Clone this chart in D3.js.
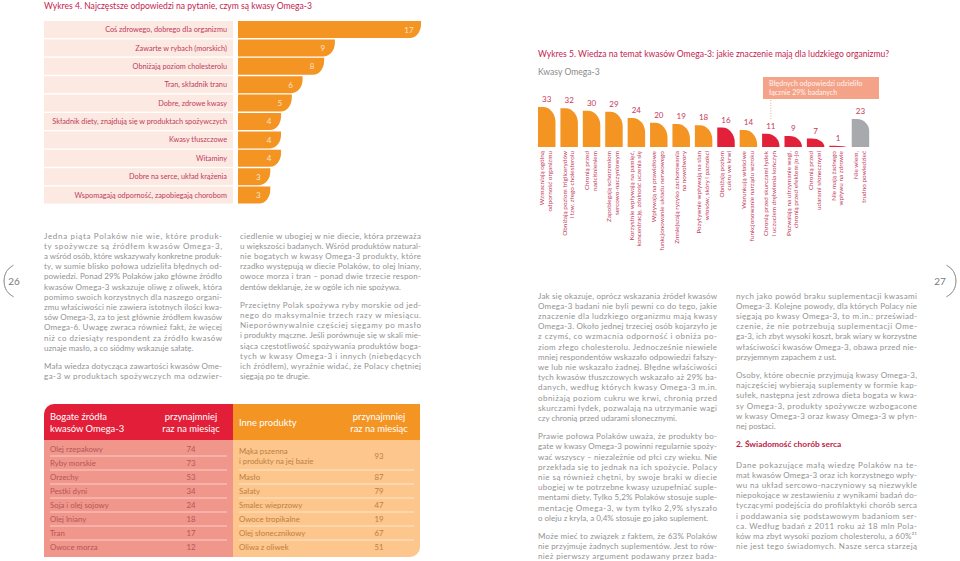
<!DOCTYPE html>
<html><head><meta charset="utf-8">
<script src="https://cdn.jsdelivr.net/npm/d3@7"></script>
<style>
body{margin:0;background:#fff}
svg{display:block}
text{font-family:Lato,'Open Sans',sans-serif}
</style>
</head><body>
<svg id="c" width="960" height="561"></svg>
<script>
// ---------- DATA ----------
const w4Title = "Wykres 4. Najczęstsze odpowiedzi na pytanie, czym są kwasy Omega-3";
const w4Categories = [
  "Coś zdrowego, dobrego dla organizmu",
  "Zawarte w rybach (morskich)",
  "Obniżają poziom cholesterolu",
  "Tran, składnik tranu",
  "Dobre, zdrowe kwasy",
  "Składnik diety, znajdują się w produktach spożywczych",
  "Kwasy tłuszczowe",
  "Witaminy",
  "Dobre na serce, układ krążenia",
  "Wspomagają odporność, zapobiegają chorobom"
];
const w4Values = [17, 9, 8, 6, 5, 4, 4, 4, 3, 3];

const w5Title = "Wykres 5. Wiedza na temat kwasów Omega-3: jakie znaczenie mają dla ludzkiego organizmu?";
const w5Subtitle = "Kwasy Omega-3";
const w5Categories = [
  ["Wzmacniają ogólną", "odporność organizmu"],
  ["Obniżają poziom triglicerydów", "i tzw. złego cholesterolu"],
  ["Chronią przed", "nadciśnieniem"],
  ["Zapobiegają schorzeniom", "sercowo-naczyniowym"],
  ["Korzystnie wpływają na pamięć,", "koncentrację, zdolność uczenia się"],
  ["Wpływają na prawidłowe", "funkcjonowanie układu nerwowego"],
  ["Zmniejszają ryzyko zachorowania", "na nowotwory"],
  ["Pozytywnie wpływają na stan", "włosów, skóry i paznokci"],
  ["Obniżają poziom", "cukru we krwi"],
  ["Warunkują właściwe", "funkcjonowanie narządu wzroku"],
  ["Chronią przed skurczami łydek", "i uczuciem drętwienia kończyn"],
  ["Pozwalają na utrzymanie wagi,", "chronią przed efektem jo-jo"],
  ["Chronią przed", "udarami słonecznymi"],
  ["Nie mają żadnego", "wpływu na zdrowie"],
  ["Nie wiem,", "trudno powiedzieć"]
];
const w5Values = [33, 32, 30, 29, 24, 20, 19, 18, 16, 14, 11, 9, 7, 1, 23];
const w5Groups = ["ok","ok","ok","ok","ok","ok","ok","ok","wrong","ok","wrong","wrong","wrong","wrong","dk"];
const w5Note = ["Błędnych odpowiedzi udzieliło", "łącznie 29% badanych"];

const tabOmegaHeader = ["Bogate źródła", "kwasów Omega-3"];
const tabOtherHeader = ["Inne produkty"];
const tabFreqHeader = ["przynajmniej", "raz na miesiąc"];
const tabOmegaNames = ["Olej rzepakowy","Ryby morskie","Orzechy","Pestki dyni","Soja i olej sojowy","Olej lniany","Tran","Owoce morza"];
const tabOmegaValues = [74, 73, 53, 34, 24, 18, 17, 12];
const tabOtherNames = [["Mąka pszenna","i produkty na jej bazie"],["Masło"],["Sałaty"],["Smalec wieprzowy"],["Owoce tropikalne"],["Olej słonecznikowy"],["Oliwa z oliwek"]];
const tabOtherValues = [93, 87, 79, 47, 19, 67, 51];

const col1 = [
  {end:true, lines:[
    "Jedna piąta Polaków nie wie, które produk-",
    "ty spożywcze są źródłem kwasów Omega-3,",
    "a wśród osób, które wskazywały konkretne produk-",
    "ty, w sumie blisko połowa udzieliła błędnych od-",
    "powiedzi. Ponad 29% Polaków jako główne źródło",
    "kwasów Omega-3 wskazuje oliwę z oliwek, która",
    "pomimo swoich korzystnych dla naszego organi-",
    "zmu właściwości nie zawiera istotnych ilości kwa-",
    "sów Omega-3, za to jest głównie źródłem kwasów",
    "Omega-6. Uwagę zwraca również fakt, że więcej",
    "niż co dziesiąty respondent za źródło kwasów",
    "uznaje masło, a co siódmy wskazuje sałatę."]},
  {end:false, lines:[
    "Mała wiedza dotycząca zawartości kwasów Ome-",
    "ga-3 w produktach spożywczych ma odzwier-"]}
];
const col2 = [
  {end:true, lines:[
    "ciedlenie w ubogiej w nie diecie, która przeważa",
    "u większości badanych. Wśród produktów natural-",
    "nie bogatych w kwasy Omega-3 produkty, które",
    "rzadko występują w diecie Polaków, to olej lniany,",
    "owoce morza i tran – ponad dwie trzecie respon-",
    "dentów deklaruje, że w ogóle ich nie spożywa."]},
  {end:true, lines:[
    "Przeciętny Polak spożywa ryby morskie od jed-",
    "nego do maksymalnie trzech razy w miesiącu.",
    "Nieporównywalnie częściej sięgamy po masło",
    "i produkty mączne. Jeśli porównuje się w skali mie-",
    "siąca częstotliwość spożywania produktów boga-",
    "tych w kwasy Omega-3 i innych (niebędących",
    "ich źródłem), wyraźnie widać, że Polacy chętniej",
    "sięgają po te drugie."]}
];
const col3 = [
  {end:true, lines:[
    "Jak się okazuje, oprócz wskazania źródeł kwasów",
    "Omega-3 badani nie byli pewni co do tego, jakie",
    "znaczenie dla ludzkiego organizmu mają kwasy",
    "Omega-3. Około jednej trzeciej osób kojarzyło je",
    "z czymś, co wzmacnia odporność i obniża po-",
    "ziom złego cholesterolu. Jednocześnie niewiele",
    "mniej respondentów wskazało odpowiedzi fałszy-",
    "we lub nie wskazało żadnej. Błędne właściwości",
    "tych kwasów tłuszczowych wskazało aż 29% ba-",
    "danych, według których kwasy Omega-3 m.in.",
    "obniżają poziom cukru we krwi, chronią przed",
    "skurczami łydek, pozwalają na utrzymanie wagi",
    "czy chronią przed udarami słonecznymi."]},
  {end:true, lines:[
    "Prawie połowa Polaków uważa, że produkty bo-",
    "gate w kwasy Omega-3 powinni regularnie spoży-",
    "wać wszyscy – niezależnie od płci czy wieku. Nie",
    "przekłada się to jednak na ich spożycie. Polacy",
    "nie są również chętni, by swoje braki w diecie",
    "ubogiej w te potrzebne kwasy uzupełniać suple-",
    "mentami diety. Tylko 5,2% Polaków stosuje suple-",
    "mentację Omega-3, w tym tylko 2,9% słyszało",
    "o oleju z kryla, a 0,4% stosuje go jako suplement."]},
  {end:false, lines:[
    "Może mieć to związek z faktem, że 63% Polaków",
    "nie przyjmuje żadnych suplementów. Jest to rów-",
    "nież pierwszy argument podawany przez bada-"]}
];
const col4a = [
  {end:true, lines:[
    "nych jako powód braku suplementacji kwasami",
    "Omega-3. Kolejne powody, dla których Polacy nie",
    "sięgają po kwasy Omega-3, to m.in.: przeświad-",
    "czenie, że nie potrzebują suplementacji Ome-",
    "ga-3, ich zbyt wysoki koszt, brak wiary w korzystne",
    "właściwości kwasów Omega-3, obawa przed nie-",
    "przyjemnym zapachem z ust."]},
  {end:true, lines:[
    "Osoby, które obecnie przyjmują kwasy Omega-3,",
    "najczęściej wybierają suplementy w formie kap-",
    "sułek, następna jest zdrowa dieta bogata w kwa-",
    "sy Omega-3, produkty spożywcze wzbogacone",
    "w kwasy Omega-3 oraz kwasy Omega-3 w płyn-",
    "nej postaci."]}
];
const col4Heading = "2. Świadomość chorób serca";
const col4b = [
  {end:false, lines:[
    "Dane pokazujące małą wiedzę Polaków na te-",
    "mat kwasów Omega-3 oraz ich korzystnego wpły-",
    "wu na układ sercowo-naczyniowy są niezwykle",
    "niepokojące w zestawieniu z wynikami badań do-",
    "tyczącymi podejścia do profilaktyki chorób serca",
    "i poddawania się podstawowym badaniom ser-",
    "ca. Według badań z 2011 roku aż 18 mln Pola-",
    "ków ma zbyt wysoki poziom cholesterolu, a 60%³¹",
    "nie jest tego świadomych. Nasze serca starzeją"]}
];
const pageNumbers = ["26", "27"];

// ---------- STYLE ----------
const RED = "#c4234f", LABEL = "#bf3a5e", ORANGE = "#f39423", CRIMSON = "#e3203a",
      GREY = "#a8a9ad", BODY = "#929292";

const svg = d3.select("#c");

// ---------- WYKRES 4 ----------
svg.append("text").attr("x", 44).attr("y", 8.5).attr("font-size", 8.6).attr("fill", RED).text(w4Title);

const x4 = d3.scaleLinear().domain([0, 17]).range([238, 421]);
const y4 = d3.scaleBand().domain(w4Categories).range([21, 203.6]).paddingInner(0.076);
const g4 = svg.append("g");
g4.selectAll("rect.bg").data(w4Categories).join("rect")
  .attr("x", 44).attr("width", 189).attr("y", d => y4(d)).attr("height", y4.bandwidth())
  .attr("fill", "#fce9e1");
g4.selectAll("text.lab").data(w4Categories).join("text")
  .attr("x", 227).attr("y", d => y4(d) + y4.bandwidth()/2 + 2.6)
  .attr("text-anchor", "end").attr("font-size", 7.3).attr("fill", LABEL).text(d => d);
function barH(x0, x1, y0, h, rx, ry) {
  rx = Math.min(rx, x1 - x0); ry = Math.min(ry, h);
  return `M${x0},${y0}H${x1}V${y0 + h - ry}A${rx},${ry} 0 0 1 ${x1 - rx},${y0 + h}H${x0}Z`;
}
g4.selectAll("path.bar").data(w4Values).join("path")
  .attr("d", (v, i) => barH(x4(0), x4(v), y4(w4Categories[i]), y4.bandwidth(), 11, 14))
  .attr("fill", ORANGE);
g4.selectAll("text.val").data(w4Values).join("text")
  .attr("x", v => x4(v) - 12).attr("y", (v, i) => y4(w4Categories[i]) + y4.bandwidth()/2 + 3)
  .attr("text-anchor", "middle").attr("font-size", 8).attr("fill", "#fde3c6").text(v => v);

// ---------- WYKRES 5 ----------
svg.append("text").attr("x", 538).attr("y", 57).attr("font-size", 8.6).attr("fill", RED).text(w5Title);
svg.append("text").attr("x", 538).attr("y", 75).attr("font-size", 8.6).attr("fill", "#8a8a8a").text(w5Subtitle);

const x5 = d3.scaleBand().domain(d3.range(w5Values.length)).range([538, 869.2]).paddingInner(0.22);
const y5 = d3.scaleLinear().domain([0, 33]).range([147, 107]);
const color5 = d3.scaleOrdinal().domain(["ok", "wrong", "dk"]).range([ORANGE, CRIMSON, GREY]);
function barV(x0, x1, top, base, rx, ry) {
  const h = base - top; rx = Math.min(rx, x1 - x0); ry = Math.min(ry, h);
  return `M${x0},${base}V${top}H${x1 - rx}A${rx},${ry} 0 0 1 ${x1},${top + ry}V${base}Z`;
}
const g5 = svg.append("g");
g5.selectAll("path").data(w5Values).join("path")
  .attr("d", (v, i) => w5Groups[i] === "dk"
      ? barV(x5(i), x5(i) + x5.bandwidth(), y5(v), y5(0), 12, 12)
      : barV(x5(i), x5(i) + x5.bandwidth(), y5(v), y5(0), 12.5, 15))
  .attr("fill", (v, i) => color5(w5Groups[i]));
g5.selectAll("text.val").data(w5Values).join("text")
  .attr("x", (v, i) => x5(i) + x5.bandwidth()/2).attr("y", v => y5(v) - 5)
  .attr("text-anchor", "middle").attr("font-size", 8).attr("fill", "#c8375e").text(v => v);
const lab5 = g5.selectAll("g.lab").data(w5Categories).join("g")
  .attr("transform", (d, i) => `translate(${x5(i) + x5.bandwidth()/2 - 2.5},151) rotate(-90)`);
lab5.selectAll("text").data(d => d).join("text")
  .attr("x", 0).attr("y", (d, j) => j * 7.6)
  .attr("text-anchor", "end").attr("font-size", 6.4).attr("fill", LABEL).text(d => d);

// note box
const noteX = x5(10) + x5.bandwidth()/2;
svg.append("rect").attr("x", 763).attr("y", 77).attr("width", 116).attr("height", 22).attr("fill", "#f4a389");
svg.selectAll("text.note").data(w5Note).join("text")
  .attr("x", 769).attr("y", (d, i) => 86 + i * 9).attr("font-size", 7).attr("fill", "#fff3ee").text(d => d);
svg.append("line").attr("x1", noteX).attr("x2", noteX).attr("y1", 100).attr("y2", 119)
  .attr("stroke", "#f4a389").attr("stroke-width", 1).attr("stroke-dasharray", "1,1.6");

// ---------- TABLE ----------
const tb = svg.append("g");
tb.append("path").attr("d", "M44,440V414A10,10 0 0 1 54,404H233V440Z").attr("fill", "#e31e39");
tb.append("rect").attr("x", 233).attr("y", 404).attr("width", 187).attr("height", 36).attr("fill", ORANGE);
tb.append("rect").attr("x", 44).attr("y", 440).attr("width", 189).attr("height", 117).attr("fill", "#f0968b");
tb.append("path").attr("d", "M233,440H420V547A10,10 0 0 1 410,557H233Z").attr("fill", "#fcc68c");
const hdr = tb.append("g").attr("fill", "#fff").attr("font-size", 9.4);
hdr.selectAll("text.h1").data(tabOmegaHeader).join("text").attr("x", 50).attr("y", (d, i) => 420 + i * 12).text(d => d);
hdr.selectAll("text.h2").data(tabFreqHeader).join("text").attr("x", 191).attr("y", (d, i) => 420 + i * 12).attr("text-anchor", "middle").text(d => d);
hdr.selectAll("text.h3").data(tabOtherHeader).join("text").attr("x", 239).attr("y", 426).text(d => d);
hdr.selectAll("text.h4").data(tabFreqHeader).join("text").attr("x", 379).attr("y", (d, i) => 420 + i * 12).attr("text-anchor", "middle").text(d => d);

const rowY = d3.scaleBand().domain(d3.range(8)).range([442, 554]);
tb.selectAll("text.on").data(tabOmegaNames).join("text")
  .attr("x", 50).attr("y", (d, i) => rowY(i) + rowY.bandwidth()/2 + 2.8)
  .attr("font-size", 7.8).attr("fill", "#b4565a").text(d => d);
tb.selectAll("text.ov").data(tabOmegaValues).join("text")
  .attr("x", 191).attr("y", (d, i) => rowY(i) + rowY.bandwidth()/2 + 2.8)
  .attr("text-anchor", "middle").attr("font-size", 7.8).attr("fill", "#b4565a").text(d => d);
tb.selectAll("line.os").data(d3.range(7)).join("line")
  .attr("x1", 50).attr("x2", 227).attr("y1", i => rowY(i) + rowY.step()).attr("y2", i => rowY(i) + rowY.step())
  .attr("stroke", "#fff").attr("stroke-width", 0.7).attr("opacity", 0.8);
const otherRow = (i) => i === 0 ? rowY(0) + rowY.step() : rowY(i + 1) + rowY.bandwidth()/2;
tabOtherNames.forEach((nm, i) => {
  nm.forEach((ln, j) => {
    tb.append("text").attr("x", 239)
      .attr("y", otherRow(i) + 2.8 + (nm.length > 1 ? (j - 0.5) * 10 : 0))
      .attr("font-size", 7.8).attr("fill", "#c07e42").text(ln);
  });
});
tb.selectAll("text.tv").data(tabOtherValues).join("text")
  .attr("x", 379).attr("y", (d, i) => otherRow(i) + 2.8)
  .attr("text-anchor", "middle").attr("font-size", 7.8).attr("fill", "#c07e42").text(d => d);
tb.selectAll("line.ts").data(d3.range(1, 7)).join("line")
  .attr("x1", 239).attr("x2", 414).attr("y1", i => rowY(i) + rowY.step()).attr("y2", i => rowY(i) + rowY.step())
  .attr("stroke", "#fff").attr("stroke-width", 0.7).attr("opacity", 0.8);

// ---------- BODY TEXT ----------
const LH = 10.2, GAP = 8;
const body = svg.append("g").attr("font-size", 8).attr("fill", BODY);
function column(paras, x, W, y0) {
  let y = y0;
  paras.forEach(p => {
    p.lines.forEach((ln, i) => {
      const t = body.append("text").attr("x", x).attr("y", y).text(ln);
      const n = t.node().getComputedTextLength();
      const last = p.end && i === p.lines.length - 1;
      if (!last) t.attr("textLength", W).attr("lengthAdjust", n > W ? "spacingAndGlyphs" : "spacing");
      else if (n > W) t.attr("textLength", W).attr("lengthAdjust", "spacingAndGlyphs");
      y += LH;
    });
    y += GAP;
  });
  return y;
}
column(col1, 44, 178, 238.5);
column(col2, 240, 181, 238.5);
column(col3, 538, 179, 298.5);
column(col4a, 736, 181, 298.5);
svg.append("text").attr("x", 736).attr("y", 446.5).attr("font-size", 8.4).attr("font-weight", 700)
  .attr("fill", "#c0203f").text(col4Heading);
column(col4b, 736, 181, 467.5);

// ---------- PAGE NUMBERS ----------
const arc = d3.arc().innerRadius(18).outerRadius(18);
svg.append("path").attr("transform", "translate(22,281)")
  .attr("d", arc({startAngle: -2.65, endAngle: -0.5})).attr("fill", "none").attr("stroke", "#9a9a9a").attr("stroke-width", 0.8);
svg.append("path").attr("transform", "translate(938,281)")
  .attr("d", arc({startAngle: 0.5, endAngle: 2.65})).attr("fill", "none").attr("stroke", "#9a9a9a").attr("stroke-width", 0.8);
svg.append("text").attr("x", 14).attr("y", 285).attr("text-anchor", "middle").attr("font-size", 10).attr("fill", "#7a7a7a").text(pageNumbers[0]);
svg.append("text").attr("x", 940).attr("y", 285).attr("text-anchor", "middle").attr("font-size", 10).attr("fill", "#7a7a7a").text(pageNumbers[1]);
</script>
</body></html>
